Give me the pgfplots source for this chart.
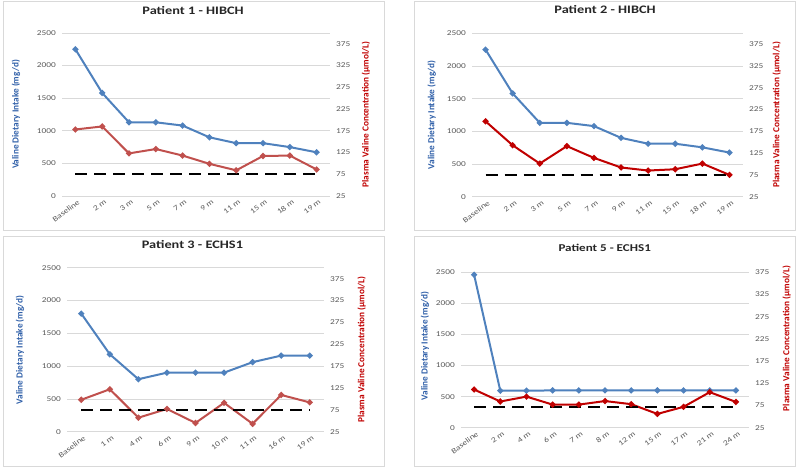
\documentclass[border=0pt]{standalone}
\usepackage{fontspec}
\setmainfont{Carlito}[FakeStretch=1.25]
\newfontfamily\lblfont{Carlito}
\usepackage{pgfplots}
\pgfplotsset{compat=1.18}
\definecolor{vblue}{HTML}{4F81BD}
\definecolor{vred}{HTML}{C0504D}
\definecolor{dred}{HTML}{C00000}
\definecolor{gridc}{HTML}{D9D9D9}
\definecolor{tickc}{HTML}{595959}
\definecolor{framec}{HTML}{D9D9D9}
\definecolor{lblue}{HTML}{2F5FA8}
\definecolor{titlec}{HTML}{262626}
\pgfplotsset{
  common/.style={scale only axis, clip=false, xmin=-0.5,
    axis line style={draw=none}, major tick length=0,
    /pgf/number format/assume math mode=true,
    /pgf/number format/1000 sep={},
    tick label style={font=\fontsize{7.5}{8.5}\selectfont, color=tickc},
    yticklabel style={inner sep=1bp},
  },
  leftax/.style={common, ymin=0, ymax=2500, ytick={0,500,...,2500},
    ymajorgrids, grid style={gridc, line width=0.75bp},
    xtick={0,...,#1}, xmax=#1+0.5,
    xticklabel style={rotate=37, anchor=north east, inner sep=0.5bp, font=\fontsize{7.5}{8}\selectfont, yshift=-3bp},
    yticklabel style={xshift=-5bp},
    ylabel style={font=\lblfont\fontsize{9.3}{10}\selectfont\bfseries, color=lblue, anchor=center},
    title style={font=\fontsize{11.5}{13}\selectfont\bfseries, color=titlec, anchor=center},
  },
  rightax/.style={common, axis y line*=right, axis x line=none, xmax=#1+0.5,
    yticklabel style={xshift=5bp},
    ylabel style={font=\lblfont\fontsize{9.3}{10}\selectfont\bfseries, color=dred, anchor=center},
  },
  bline/.style={vblue, line width=2bp, mark=*, mark size=1.9bp, mark options={solid, fill=vblue, draw=vblue}},
  rline/.style={#1, line width=2bp, mark=*, mark size=1.9bp, mark options={solid, fill=#1, draw=#1}},
  dline/.style={black, line width=2bp, dash pattern=on 12bp off 7bp},
}
\begin{document}
\begin{tikzpicture}[x=1bp,y=1bp]
\useasboundingbox (0,0) rectangle (798,468);
\draw[framec, line width=1bp] (3,237) rectangle (384,466);
\draw[framec, line width=1bp] (414,237) rectangle (795,466);
\draw[framec, line width=1bp] (3,1) rectangle (384,231);
\draw[framec, line width=1bp] (414,1) rectangle (795,231);

% ---------- Panel 1 ----------
\begin{axis}[leftax=9, at={(62bp,272bp)}, anchor=south west, width=268bp, height=163bp,
  xticklabels={Baseline,2 m,3 m,5 m,7 m,9 m,11 m,15 m,18 m,19 m},
  ylabel={Valine Dietary Intake (mg/d)}, ylabel style={at={(axis description cs:-0.172,0.5)}},
  title={Patient 1 - HIBCH}, title style={at={(axis description cs:0.489,1.104)}}]
\addplot[bline] coordinates {(0,2250) (1,1580) (2,1130) (3,1130) (4,1080) (5,900) (6,810) (7,810) (8,750) (9,670)};
\end{axis}
\begin{axis}[rightax=9, at={(62bp,272bp)}, anchor=south west, width=268bp, height=163bp,
  ymin=25, ymax=400, ytick={25,75,...,375},
  ylabel={Plasma Valine Concentration (µmol/L)}, ylabel style={at={(axis description cs:1.134,0.5)}}]
\addplot[rline=vred] coordinates {(0,178) (1,185) (2,123) (3,133) (4,118) (5,99) (6,84) (7,117) (8,118) (9,86)};
\addplot[dline] coordinates {(0,75) (9,75)};
\end{axis}

% ---------- Panel 2 ----------
\begin{axis}[leftax=9, at={(472bp,271.3bp)}, anchor=south west, width=271bp, height=163.4bp,
  xticklabels={Baseline,2 m,3 m,5 m,7 m,9 m,11 m,15 m,18 m,19 m},
  ylabel={Valine Dietary Intake (mg/d)}, ylabel style={at={(axis description cs:-0.149,0.5)}},
  title={Patient 2 - HIBCH}, title style={at={(axis description cs:0.491,1.106)}}]
\addplot[bline] coordinates {(0,2250) (1,1580) (2,1130) (3,1130) (4,1080) (5,900) (6,810) (7,810) (8,755) (9,675)};
\end{axis}
\begin{axis}[rightax=9, at={(472bp,271.3bp)}, anchor=south west, width=271bp, height=163.4bp,
  ymin=25, ymax=400, ytick={25,75,...,375},
  ylabel={Plasma Valine Concentration (µmol/L)}, ylabel style={at={(axis description cs:1.124,0.5)}}]
\addplot[dline] coordinates {(0,75) (9,75)};
\addplot[rline=dred] coordinates {(0,198) (1,143) (2,101) (3,141) (4,114) (5,92) (6,85) (7,88) (8,101) (9,75)};
\end{axis}

% ---------- Panel 3 ----------
\begin{axis}[leftax=8, at={(67bp,36.3bp)}, anchor=south west, width=257bp, height=164bp,
  xticklabels={Baseline,1 m,4 m,6 m,9 m,10 m,11 m,16 m,19 m},
  ylabel={Valine Dietary Intake (mg/d)}, ylabel style={at={(axis description cs:-0.183,0.5)}},
  title={Patient 3 - ECHS1}, title style={at={(axis description cs:0.488,1.102)}}]
\addplot[bline] coordinates {(0,1800) (1,1180) (2,800) (3,900) (4,900) (5,900) (6,1060) (7,1160) (8,1160)};
\end{axis}
\begin{axis}[rightax=8, at={(67bp,36.3bp)}, anchor=south west, width=257bp, height=164bp,
  ymin=25, ymax=400, ytick={25,75,...,375},
  ylabel={Plasma Valine Concentration (µmol/L)}, ylabel style={at={(axis description cs:1.147,0.5)}}]
\addplot[rline=vred] coordinates {(0,98) (1,122) (2,57) (3,77) (4,45) (5,91) (6,43) (7,109) (8,92)};
\addplot[dline] coordinates {(0,75) (8,75)};
\end{axis}

% ---------- Panel 4 ----------
\begin{axis}[leftax=10, at={(461bp,40.3bp)}, anchor=south west, width=288bp, height=155.4bp,
  xticklabels={Baseline,2 m,4 m,6 m,7 m,8 m,12 m,15 m,17 m,21 m,24 m},
  ylabel={Valine Dietary Intake (mg/d)}, ylabel style={at={(axis description cs:-0.125,0.527)}},
  title={Patient 5 - ECHS1}, title style={at={(axis description cs:0.499,1.118)}, font=\fontsize{10.5}{12}\selectfont\bfseries}]
\addplot[bline] coordinates {(0,2460) (1,595) (2,595) (3,600) (4,600) (5,600) (6,600) (7,600) (8,600) (9,600) (10,600)};
\end{axis}
\begin{axis}[rightax=10, at={(461bp,40.3bp)}, anchor=south west, width=288bp, height=155.4bp,
  ymin=25, ymax=375, ytick={25,75,...,375},
  ylabel={Plasma Valine Concentration (µmol/L)}, ylabel style={at={(axis description cs:1.131,0.575)}}]
\addplot[rline=dred] coordinates {(0,111) (1,84) (2,95) (3,77) (4,77) (5,85) (6,78) (7,56) (8,72) (9,105) (10,83)};
\addplot[dline] coordinates {(0,72) (10,72)};
\end{axis}
\end{tikzpicture}
\end{document}
